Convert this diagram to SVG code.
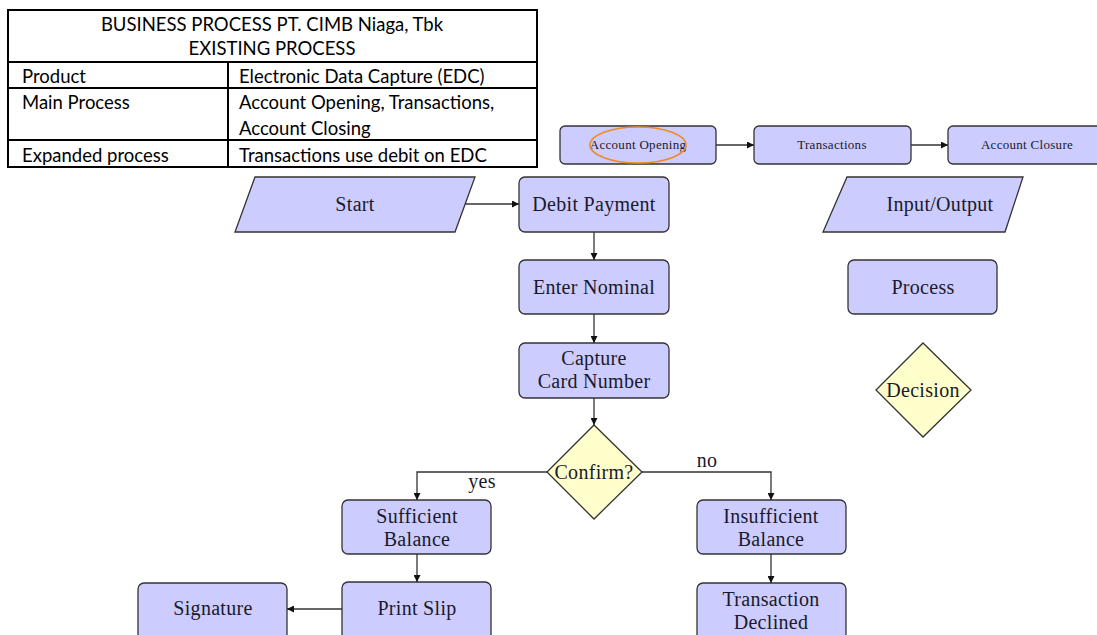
<svg xmlns="http://www.w3.org/2000/svg" width="1097" height="635" viewBox="0 0 1097 635">
<defs>
<style>
.tbl{fill:none;stroke:#000;stroke-width:2}
.tt{font-family:Lato,"Liberation Sans",sans-serif;font-size:18.5px;fill:#000}
.proc{fill:#ccccff;stroke:#333;stroke-width:1.3}
.dec{fill:#ffffcc;stroke:#333;stroke-width:1.3}
.lbl{font-family:"Liberation Serif","DejaVu Serif",serif;font-size:20px;letter-spacing:0.3px;fill:#1a1a2a;text-anchor:middle}
.sm{font-family:"Liberation Serif","DejaVu Serif",serif;font-size:13px;letter-spacing:0.3px;fill:#1a1a2a;text-anchor:middle}
.conn{fill:none;stroke:#333;stroke-width:1.3;marker-end:url(#arr)}
</style>
<marker id="arr" viewBox="0 0 10 10" refX="10" refY="5" markerWidth="7" markerHeight="7" markerUnits="userSpaceOnUse" orient="auto">
<path d="M0,0 L10,5 L0,10 z" fill="#111"/>
</marker>
</defs>
<rect width="1097" height="635" fill="#fff"/>

<g id="table">
<rect class="tbl" x="8" y="10" width="529" height="157"/>
<line class="tbl" x1="8" y1="62" x2="537" y2="62"/>
<line class="tbl" x1="8" y1="88" x2="537" y2="88"/>
<line class="tbl" x1="8" y1="140" x2="537" y2="140"/>
<line class="tbl" x1="228" y1="62" x2="228" y2="167"/>
<text class="tt" x="272" y="31" text-anchor="middle">BUSINESS PROCESS PT. CIMB Niaga, Tbk</text>
<text class="tt" x="272" y="55" text-anchor="middle">EXISTING PROCESS</text>
<text class="tt" x="22" y="83">Product</text>
<text class="tt" x="239" y="83">Electronic Data Capture (EDC)</text>
<text class="tt" x="22" y="109">Main Process</text>
<text class="tt" x="239" y="109">Account Opening, Transactions,</text>
<text class="tt" x="239" y="135">Account Closing</text>
<text class="tt" x="22" y="162">Expanded process</text>
<text class="tt" x="239" y="162">Transactions use debit on EDC</text>
</g>

<g id="acc-open">
<rect class="proc" x="560" y="126" width="156" height="38" rx="5"/>
<text class="sm" x="638" y="149">Account Opening</text>
<ellipse cx="638" cy="145" rx="48" ry="18" fill="none" stroke="#f08a24" stroke-width="1.6"/>
</g>
<g id="transactions">
<rect class="proc" x="754" y="126" width="157" height="38" rx="5"/>
<text class="sm" x="832" y="149">Transactions</text>
</g>
<g id="acc-close">
<rect class="proc" x="948" y="126" width="160" height="38" rx="5"/>
<text class="sm" x="1027" y="149">Account Closure</text>
</g>

<g id="start">
<polygon class="proc" points="255,177 475,177 455,232 235,232"/>
<text class="lbl" x="355" y="211">Start</text>
</g>
<g id="debit">
<rect class="proc" x="519" y="177" width="150" height="55" rx="6"/>
<text class="lbl" x="594" y="211">Debit Payment</text>
</g>
<g id="nominal">
<rect class="proc" x="519" y="260" width="150" height="54" rx="6"/>
<text class="lbl" x="594" y="294">Enter Nominal</text>
</g>
<g id="capture">
<rect class="proc" x="519" y="343" width="150" height="55" rx="6"/>
<text class="lbl" x="594" y="365">Capture</text>
<text class="lbl" x="594" y="388">Card Number</text>
</g>
<g id="confirm">
<polygon class="dec" points="594,425 642,472 594,519 547,472"/>
<text class="lbl" x="594" y="479">Confirm?</text>
</g>
<g id="sufficient">
<rect class="proc" x="342" y="500" width="149" height="54" rx="6"/>
<text class="lbl" x="417" y="523">Sufficient</text>
<text class="lbl" x="417" y="546">Balance</text>
</g>
<g id="insufficient">
<rect class="proc" x="697" y="500" width="149" height="54" rx="6"/>
<text class="lbl" x="771" y="523">Insufficient</text>
<text class="lbl" x="771" y="546">Balance</text>
</g>
<g id="print">
<rect class="proc" x="342" y="582" width="149" height="64" rx="6"/>
<text class="lbl" x="417" y="615">Print Slip</text>
</g>
<g id="signature">
<rect class="proc" x="138" y="583" width="149" height="64" rx="6"/>
<text class="lbl" x="213" y="615">Signature</text>
</g>
<g id="declined">
<rect class="proc" x="697" y="583" width="149" height="64" rx="6"/>
<text class="lbl" x="771" y="606">Transaction</text>
<text class="lbl" x="771" y="629">Declined</text>
</g>

<g id="legend-io">
<polygon class="proc" points="847,177 1023,177 1005,232 823,232"/>
<text class="lbl" x="940" y="211">Input/Output</text>
</g>
<g id="legend-process">
<rect class="proc" x="848" y="260" width="149" height="54" rx="6"/>
<text class="lbl" x="923" y="294">Process</text>
</g>
<g id="legend-decision">
<polygon class="dec" points="923,343 971,390 923,437 876,390"/>
<text class="lbl" x="923" y="397">Decision</text>
</g>

<g id="connectors">
<line class="conn" x1="716" y1="145" x2="754" y2="145"/>
<line class="conn" x1="911" y1="145" x2="948" y2="145"/>
<line class="conn" x1="465" y1="204" x2="519" y2="204"/>
<line class="conn" x1="594" y1="232" x2="594" y2="260"/>
<line class="conn" x1="594" y1="314" x2="594" y2="343"/>
<line class="conn" x1="594" y1="398" x2="594" y2="425"/>
<polyline class="conn" points="547,472 417,472 417,500"/>
<polyline class="conn" points="642,472 771,472 771,500"/>
<line class="conn" x1="417" y1="554" x2="417" y2="582"/>
<line class="conn" x1="771" y1="554" x2="771" y2="583"/>
<line class="conn" x1="342" y1="609" x2="287" y2="609"/>
<text class="lbl" x="482" y="488">yes</text>
<text class="lbl" x="707" y="467">no</text>
</g>
</svg>
